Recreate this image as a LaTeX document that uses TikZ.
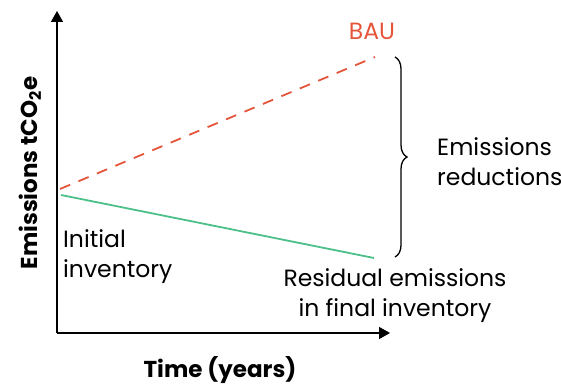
\documentclass[tikz,border=0pt]{standalone}
\usepackage{fontspec}
\setmainfont{Poppins}
\usetikzlibrary{arrows.meta,decorations.pathreplacing}
\definecolor{baured}{HTML}{E5553A}
\definecolor{netgreen}{HTML}{4DC08A}
\tikzset{
  textlabel/.style={font=\fontsize{23.5}{30}\selectfont, inner sep=0pt},
  axislabel/.style={font=\bfseries\fontsize{23}{30}\selectfont, inner sep=0pt}
}
\begin{document}
\begin{tikzpicture}[x=1pt,y=-1pt]
        \useasboundingbox (0,0) rectangle (561,387);
        % Achsen
        \coordinate (origin) at (57,333);
        \coordinate (ytop) at (57,11);
        \coordinate (xend) at (390,333);
        \draw[line width=1.4pt, -{Triangle[length=11pt,width=12pt]}] (origin) -- (ytop);
        \draw[line width=1.4pt, -{Triangle[length=11pt,width=12pt]}] (origin) -- (xend);

        % Pfade
        \coordinate (start) at (60,189);
        \coordinate (bauend) at (375,57);
        \coordinate (greenstart) at (61,195);
        \coordinate (greenend) at (374,258);
        \draw[baured, line width=1.8pt, dash pattern=on 11pt off 9pt] (start) -- (bauend);
        \draw[netgreen, line width=1.8pt] (greenstart) -- (greenend);

        % Klammer
        \coordinate (btop) at (395,57);
        \coordinate (bbot) at (395,257);
        \draw[line width=1.3pt, decorate, decoration={brace, amplitude=12pt}] (btop) -- (bbot);

        % Beschriftungen
        \node[textlabel, text=baured] (bau) at (372,31) {BAU};
        \node[textlabel, align=left, anchor=west] (reduction) at (437,162) {Emissions\\reductions};
        \node[textlabel, align=left, anchor=west] (initial) at (63,257) {Initial\\inventory};
        \node[textlabel, align=center] (residual) at (395,296) {Residual emissions\\in final inventory};
        \node[axislabel, anchor=base] (xlabel) at (220,377) {Time (years)};
        \node[axislabel, rotate=90] (ylabel) at (30,173) {Emissions tCO\textsubscript{2}e};
    \end{tikzpicture}
\end{document}
